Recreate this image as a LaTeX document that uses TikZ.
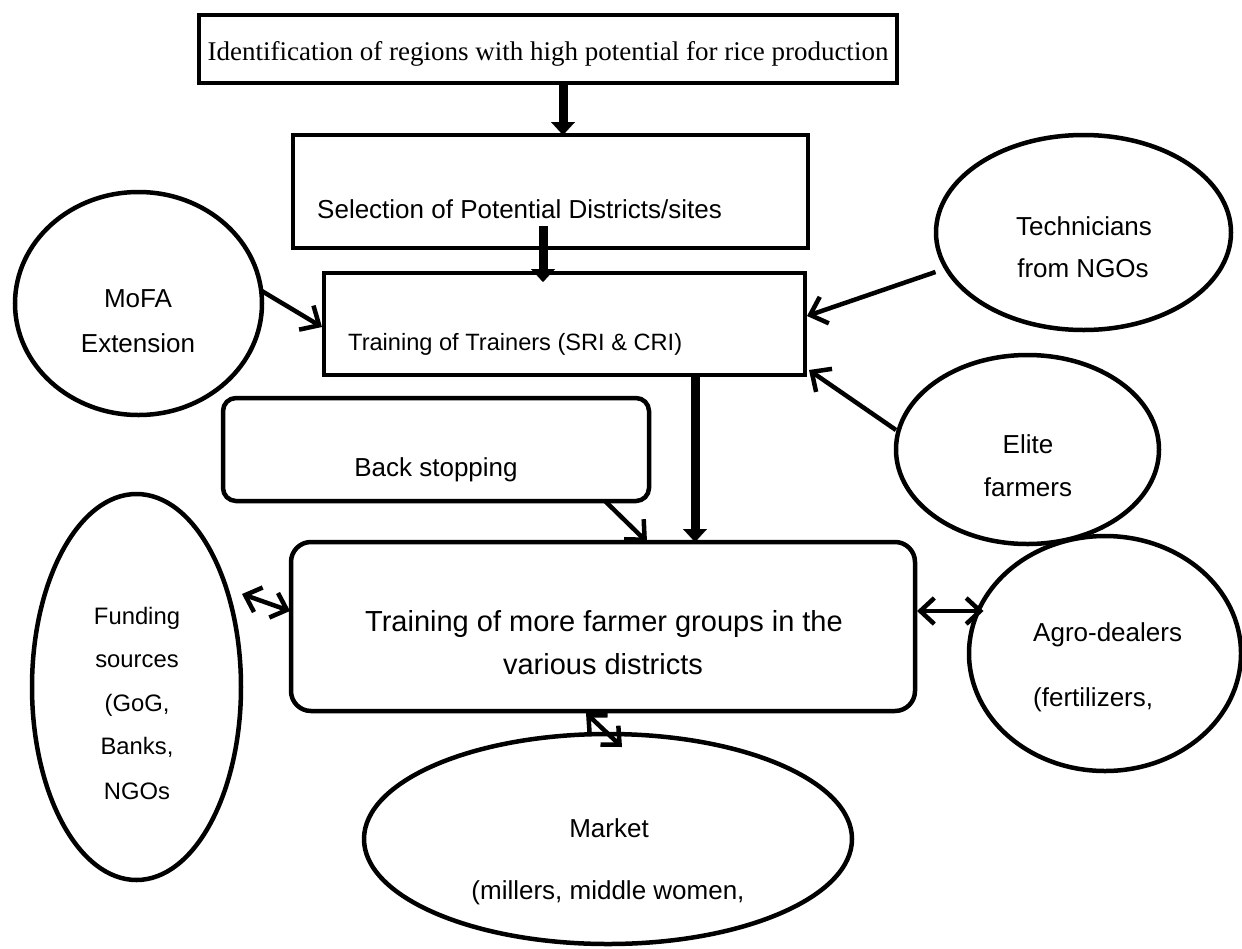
\documentclass[tikz,border=0pt]{standalone}
\usepackage{fontspec}
\setmainfont{Liberation Sans}
\newfontfamily\timesfont{Liberation Serif}
\usetikzlibrary{shapes.geometric,arrows.meta,calc}

\tikzset{
  box/.style={draw, line width=4.5pt, inner sep=0pt, outer sep=0pt},
  oval/.style={draw, ellipse, line width=4.5pt, inner sep=0pt, outer sep=0pt},
  lbl/.style={anchor=base, inner sep=0pt, font=\fontsize{26}{31}\selectfont},
  heavy/.style={line width=9pt, -{Triangle[length=13pt,width=24pt,line width=0.1pt]}},
  barb/.style={Straight Barb[length=15pt,width=28pt]},
  link/.style={line width=4.5pt, -{Straight Barb[length=15pt,width=28pt]}},
  twoway/.style={line width=4.5pt, {Straight Barb[length=14pt,width=26pt]}-{Straight Barb[length=14pt,width=26pt]}},
}

\begin{document}
\begin{tikzpicture}[x=1pt, y=-1pt]
\useasboundingbox (0,0) rectangle (1242,948);

% main chain of boxes
\node[box, minimum width=698pt, minimum height=68pt] (ident) at (548,49) {};
\node[lbl, font=\timesfont\fontsize{27}{32}\selectfont] (identtxt) at (548,60)
  {Identification of regions with high potential for rice production};

\node[box, minimum width=515pt, minimum height=113pt] (sel) at (550.5,191.5) {};
\node[lbl, anchor=base west] (seltxt) at (317,218) {Selection of Potential Districts/sites};

\node[box, minimum width=481pt, minimum height=102pt] (tot) at (564.5,324) {};
\node[lbl, anchor=base west, font=\fontsize{23.6}{28}\selectfont] (tottxt) at (348,350)
  {Training of Trainers (SRI \& CRI)};

\node[box, rounded corners=13pt, minimum width=426pt, minimum height=103pt] (back) at (436,449.5) {};
\node[lbl] (backtxt) at (436,476) {Back stopping};

\node[box, rounded corners=20pt, minimum width=624pt, minimum height=169pt] (farm) at (603,626.5) {};
\node[lbl, font=\fontsize{29}{34}\selectfont] (farmtxta) at (604,631) {Training of more farmer groups in the};
\node[lbl, font=\fontsize{29}{34}\selectfont] (farmtxtb) at (603,674) {various districts};

% partner ellipses
\node[oval, minimum width=247pt, minimum height=223pt] (mofa) at (138.5,303.5) {};
\node[lbl] (mofaa) at (138,307) {MoFA};
\node[lbl] (mofab) at (138,352) {Extension};

\node[oval, minimum width=295pt, minimum height=195pt] (tech) at (1083.5,232.5) {};
\node[lbl] (techa) at (1084,235) {Technicians};
\node[lbl] (techb) at (1083,277) {from NGOs};

\node[oval, minimum width=263pt, minimum height=189pt] (elite) at (1027.5,449.5) {};
\node[lbl] (elitea) at (1028,453) {Elite};
\node[lbl] (eliteb) at (1028,496) {farmers};

\node[oval, minimum width=209pt, minimum height=386pt] (fund) at (136.5,687) {};
\begin{scope}[every node/.style={lbl, font=\fontsize{23.8}{28}\selectfont}]
\node (funda) at (137,624) {Funding};
\node (fundb) at (137,667) {sources};
\node (fundc) at (137,711) {(GoG,};
\node (fundd) at (137,754) {Banks,};
\node (funde) at (137,799) {NGOs};
\end{scope}

\node[oval, minimum width=272pt, minimum height=235pt] (agro) at (1105,653.5) {};
\node[lbl, anchor=base west] (agroa) at (1033,641) {Agro-dealers};
\node[lbl, anchor=base west] (agrob) at (1033,706) {(fertilizers,};

\node[oval, minimum width=488pt, minimum height=210pt] (market) at (608,839) {};
\node[lbl] (marketa) at (609,837) {Market};
\node[lbl] (marketb) at (608,899) {(millers, middle women,};

% heavy flow arrows
\draw[heavy] ([xshift=15pt]ident.south) -- ([xshift=15pt]ident.south |- sel.north);
\draw[heavy] ($(sel.south)+(-7.5,-22)$) -- ($(tot.north)+(-21.5,9)$);
\draw[heavy] ($(tot.south)+(130.5,0)$) -- ($(farm.north)+(92,0)$);

% inputs to the training of trainers
\draw[link] (mofa.6) -- ($(tot.west)+(-2,3)$);
\draw[link] ($(tech.center)+(-148,39.5)$) -- ($(tot.east)+(2,-8)$);
\draw[link] ($(elite.center)+(-131.5,-19.5)$) -- ($(tot.south east)+(4,-5)$);
\draw[link] ($(back.south)+(169,0)$) -- ($(farm.north)+(44,0)$);

% two-way links of the farmer groups
\draw[twoway] ($(fund.center)+(105.5,-93)$) -- ($(farm.west)+(-1,-15.5)$);
\draw[twoway] ($(farm.east)+(2,-15.5)$) -- ($(agro.center)+(-121.5,-42.5)$);
\draw[twoway] ($(farm.south)+(-17,2)$) -- ($(market.center)+(14,-92)$);
\end{tikzpicture}
\end{document}
